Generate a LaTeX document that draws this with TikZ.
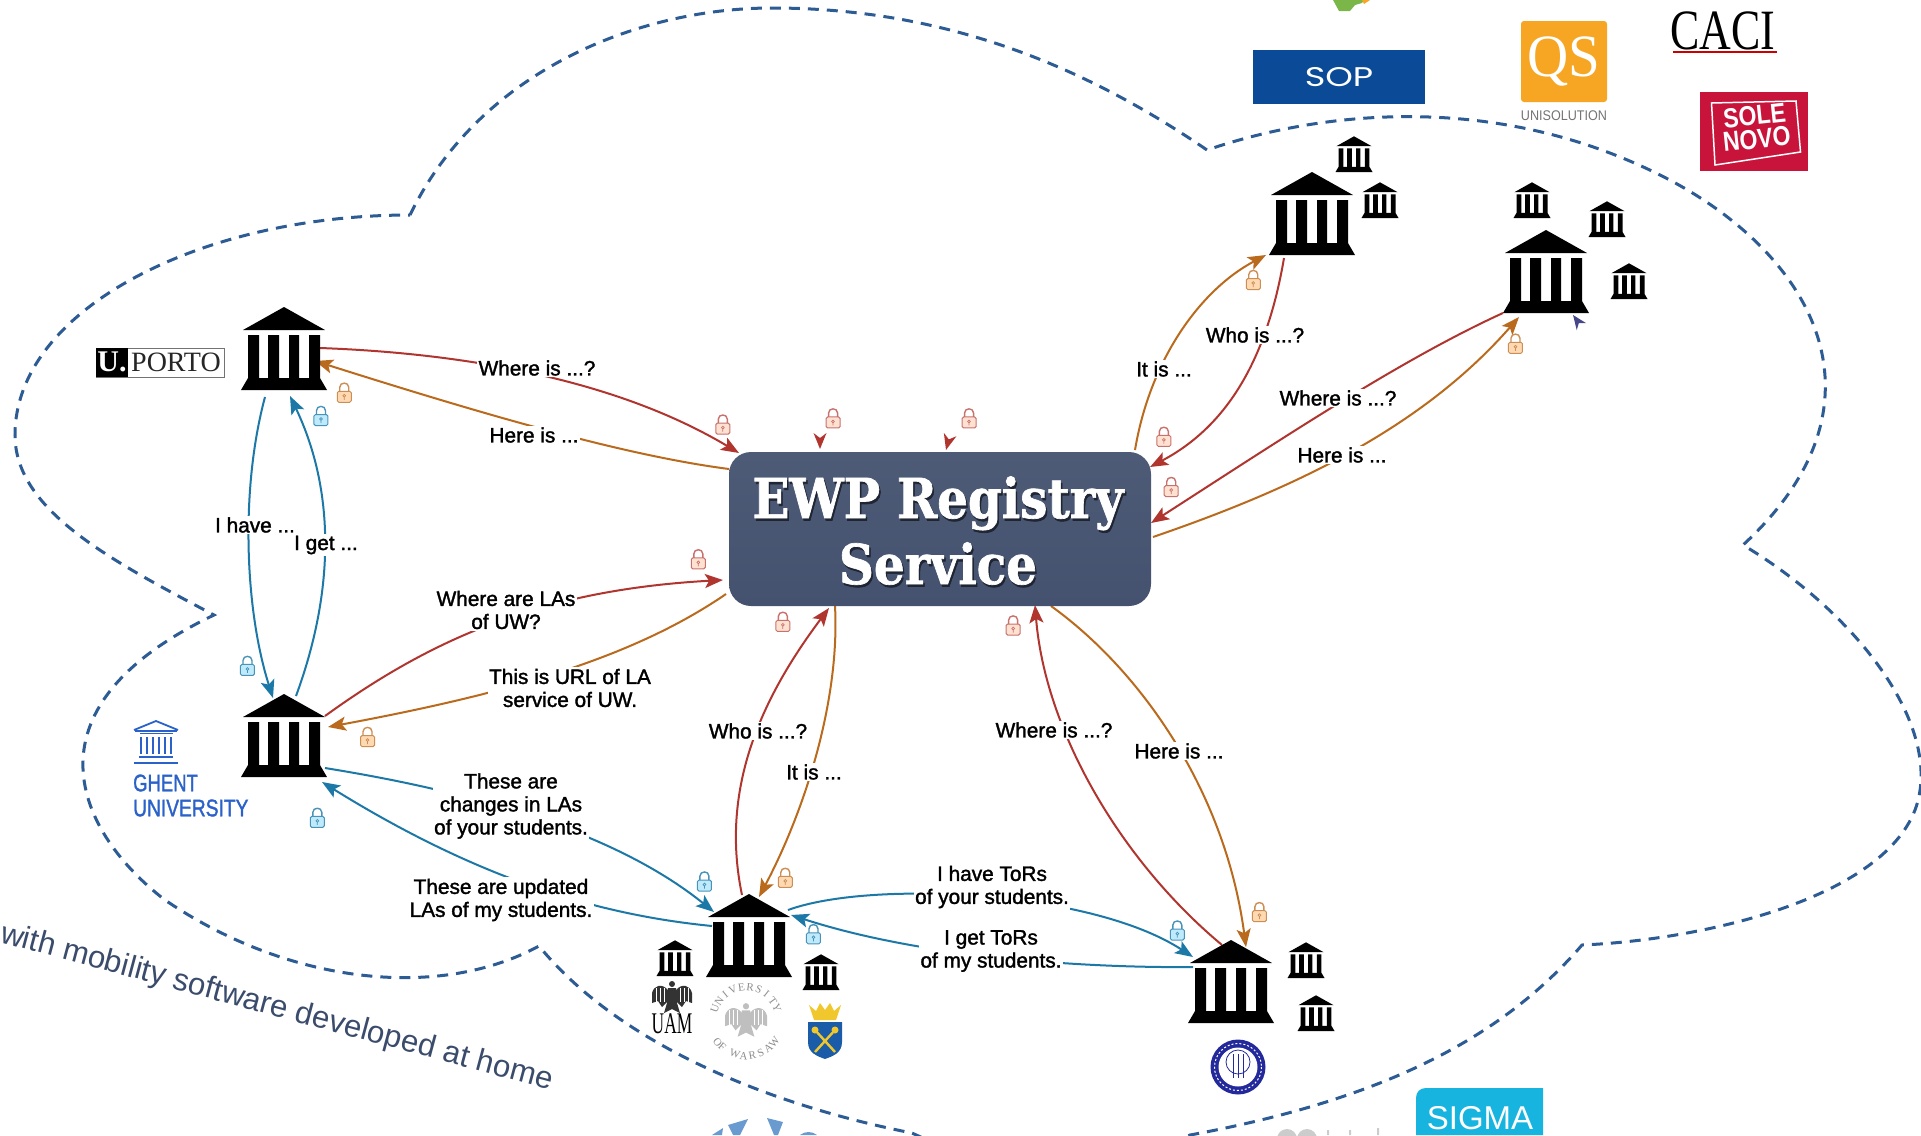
\documentclass[tikz,border=0pt]{standalone}
\usepackage{fontspec}
\usetikzlibrary{arrows.meta}
\setmainfont{Liberation Sans}
\newfontfamily\lblfont{Liberation Sans}[FakeBold=1.6]
\newfontfamily\titlefont{DejaVu Serif Bold}[FakeStretch=0.88,FakeBold=1.2]
\newfontfamily\serfont{Liberation Serif}
\newfontfamily\popfont{Poppins}
\definecolor{cloudc}{HTML}{2D5B94}
\definecolor{redc}{HTML}{B0352F}
\definecolor{orgc}{HTML}{B96A1D}
\definecolor{bluc}{HTML}{1C78A6}
\definecolor{boxtop}{HTML}{4E5B77}
\definecolor{boxbot}{HTML}{44526F}
\definecolor{txtc}{HTML}{3A4B6B}
\definecolor{gentc}{HTML}{2A62C9}
\definecolor{sopc}{HTML}{0B4A96}
\definecolor{qsc}{HTML}{F6A623}
\definecolor{solec}{HTML}{C8143A}
\definecolor{sigc}{HTML}{18B4E0}
\definecolor{crestb}{HTML}{1A5CA8}
\definecolor{crestg}{HTML}{F0C82E}
\definecolor{seal}{HTML}{23299A}
\definecolor{leaf}{HTML}{7AB648}
\definecolor{bltl}{HTML}{6A9BD0}
\tikzset{
  conn/.style={line width=2pt,-{Stealth[length=18pt,width=14pt,inset=4pt]}},
  rconn/.style={conn,draw=redc},
  oconn/.style={conn,draw=orgc},
  bconn/.style={conn,draw=bluc},
  lbl/.style={fill=white,inner sep=1.5pt,align=center,text=black,font=\lblfont\fontsize{20.8}{23}\selectfont},
  bldg/.pic={
    \fill[black] (0,-83) -- (41,-60) -- (-41,-60) -- cycle;
    \fill[black] (-36,-55) rectangle (-25,-12) (-16,-55) rectangle (-5,-12)
                 (5,-55) rectangle (15,-12) (25,-55) rectangle (36,-12);
    \fill[black] (-36,-12) -- (36,-12) -- (43,0) -- (-43,0) -- cycle;
  },
  lock/.pic={
    \path[pic actions,line width=1pt,rounded corners=1.5pt] (-7,-2) rectangle (7,9);
    \path[pic actions,fill=none,line width=1.4pt] (-4.5,-2) -- (-4.5,-6) .. controls (-4.5,-11.5) and (4.5,-11.5) .. (4.5,-6) -- (4.5,-2);
    \path[pic actions,line width=.7pt] (0,2.5) circle (1.4) (0,4) -- (0,6.5);
  },
  loosehead/.pic={
    \path[pic actions] (0,0) -- (-16,6.5) -- (-11,0) -- (-16,-6.5) -- cycle;
  },
  eagle/.pic={
    \path[pic actions] (0,-15) circle (3);
    \path[pic actions] (-4,-11) -- (4,-11) -- (5,4) -- (8,14) -- (0,10) -- (-8,14) -- (-5,4) -- cycle;
    \foreach \s in {-1,1}{
      \path[pic actions] ({\s*4},-9) .. controls ({\s*10},-16) and ({\s*18},-14) .. ({\s*20},-6) -- ({\s*20},4) -- ({\s*14},2) -- ({\s*10},8) -- ({\s*4},2) -- cycle;
      \foreach \k in {8,12,16}
        \draw[white,line width=.9pt] ({\s*\k},-11) -- ({\s*\k},3);
    }
  }
}
\begin{document}
\begin{tikzpicture}[x=1pt,y=-1pt]
\useasboundingbox (0,0) rectangle (1921,1135);
\clip (0,0) rectangle (1921,1135);

% cloud
\draw[cloudc,line width=3pt,dash pattern=on 11pt off 8pt]
  (410,215) .. controls (480,70) and (640,8) .. (772,8)
  .. controls (950,8) and (1090,70) .. (1207,150)
  .. controls (1330,108) and (1500,95) .. (1660,175)
  .. controls (1810,250) and (1900,400) .. (1743,545)
  .. controls (1860,615) and (1945,730) .. (1915,810)
  .. controls (1880,900) and (1700,940) .. (1582,945)
  .. controls (1500,1040) and (1380,1100) .. (1190,1135)
  .. controls (1100,1175) and (1000,1175) .. (912,1133)
  .. controls (770,1105) and (620,1045) .. (539,946)
  .. controls (440,1000) and (290,985) .. (165,900)
  .. controls (80,835) and (15,710) .. (214,615)
  .. controls (110,560) and (15,510) .. (15,435)
  .. controls (15,310) and (200,215) .. (410,215);

% connector ends
\coordinate (a1) at (320,348);   \coordinate (b1) at (739,453);
\coordinate (a2) at (729,469);   \coordinate (b2) at (315,361);
\coordinate (a3) at (265,397);   \coordinate (b3) at (273,698);
\coordinate (a4) at (296,696);   \coordinate (b4) at (290,396);
\coordinate (a5) at (325,716);   \coordinate (b5) at (723,580);
\coordinate (a6) at (726,594);   \coordinate (b6) at (328,727);
\coordinate (a7) at (325,768);   \coordinate (b7) at (714,912);
\coordinate (a8) at (712,926);   \coordinate (b8) at (322,782);
\coordinate (a9) at (742,895);   \coordinate (b9) at (829,608);
\coordinate (a10) at (835,606);  \coordinate (b10) at (759,897);
\coordinate (a11) at (1222,945); \coordinate (b11) at (1035,605);
\coordinate (a12) at (1051,606); \coordinate (b12) at (1246,947);
\coordinate (a13) at (788,910);  \coordinate (b13) at (1193,957);
\coordinate (a14) at (1193,967); \coordinate (b14) at (791,915);
\coordinate (a15) at (1135,450); \coordinate (b15) at (1266,255);
\coordinate (a16) at (1284,258); \coordinate (b16) at (1150,467);
\coordinate (a17) at (1503,313); \coordinate (b17) at (1151,523);
\coordinate (a18) at (1153,537); \coordinate (b18) at (1519,317);

\draw[rconn] (a1) .. controls (430,352) and (600,370) .. (b1);
\draw[oconn] (a2) .. controls (620,455) and (470,410) .. (b2);
\draw[bconn] (a3) .. controls (240,490) and (245,610) .. (b3);
\draw[bconn] (a4) .. controls (335,590) and (335,490) .. (b4);
\draw[rconn] (a5) .. controls (430,640) and (540,590) .. (b5);
\draw[oconn] (a6) .. controls (630,660) and (500,695) .. (b6);
\draw[bconn] (a7) .. controls (430,785) and (600,820) .. (b7);
\draw[bconn] (a8) .. controls (600,915) and (480,880) .. (b8);
\draw[rconn] (a9) .. controls (720,790) and (760,700) .. (b9);
\draw[oconn] (a10) .. controls (840,700) and (805,810) .. (b10);
\draw[rconn] (a11) .. controls (1120,860) and (1045,730) .. (b11);
\draw[oconn] (a12) .. controls (1140,670) and (1225,790) .. (b12);
\draw[bconn] (a13) .. controls (870,880) and (1090,890) .. (b13);
\draw[bconn] (a14) .. controls (1100,968) and (930,960) .. (b14);
\draw[oconn] (a15) .. controls (1150,360) and (1200,290) .. (b15);
\draw[rconn] (a16) .. controls (1265,370) and (1220,430) .. (b16);
\draw[rconn] (a17) .. controls (1400,360) and (1280,440) .. (b17);
\draw[oconn] (a18) .. controls (1290,490) and (1420,430) .. (b18);

% labels
\node[lbl] (l1) at (537,368) {Where is ...?};
\node[lbl] (l2) at (534,435) {Here is ...};
\node[lbl] (l3) at (255,525) {I have ...};
\node[lbl] (l4) at (326,545) {I get ...};
\node[lbl] (l5) at (506,610) {Where are LAs\\of UW?};
\node[lbl] (l6) at (570,688) {This is URL of LA\\service of UW.};
\node[lbl] (l7) at (511,806) {These are\\changes in LAs\\of your students.};
\node[lbl] (l8) at (501,900) {These are updated\\LAs of my students.};
\node[lbl] (l9) at (758,731) {Who is ...?};
\node[lbl] (l10) at (814,772) {It is ...};
\node[lbl] (l11) at (1054,730) {Where is ...?};
\node[lbl] (l12) at (1179,751) {Here is ...};
\node[lbl] (l13) at (992,887) {I have ToRs\\of your students.};
\node[lbl] (l14) at (991,951) {I get ToRs\\of my students.};
\node[lbl] (l15) at (1164,369) {It is ...};
\node[lbl] (l16) at (1255,335) {Who is ...?};
\node[lbl] (l17) at (1338,398) {Where is ...?};
\node[lbl] (l18) at (1342,455) {Here is ...};

% registry
\node[rectangle,rounded corners=22pt,minimum width=422pt,minimum height=154pt,inner sep=0pt,top color=boxtop,bottom color=boxbot] (reg) at (940,529) {};
\node[align=center,inner sep=0pt,text=black!55!boxbot,font=\titlefont\fontsize{55}{66}\selectfont] (regshadow) at (939.5,533) {EWP Registry\\Service};
\node[align=center,inner sep=0pt,text=white,font=\titlefont\fontsize{55}{66}\selectfont] (regtext) at (938,530.5) {EWP Registry\\Service};

% loose arrowheads
\pic[fill=redc,rotate=-90] at (820,449) {loosehead};
\pic[fill=redc,rotate=-105] at (946,450) {loosehead};
\pic[fill=black!40!blue!45!gray,rotate=126,scale=.9] at (1573,315) {loosehead};

% buildings
\pic (porto) at (284,390) {bldg};
\pic (ghent) at (284,777) {bldg};
\pic (uw) at (749,977) {bldg};
\pic (uc3m) at (1231,1023) {bldg};
\pic (top1) at (1312,255) {bldg};
\pic (top2) at (1546,313) {bldg};
\pic[scale=.43] (s1) at (1354,172) {bldg};
\pic[scale=.43] (s2) at (1380,218) {bldg};
\pic[scale=.43] (s3) at (1532,218) {bldg};
\pic[scale=.43] (s4) at (1607,237) {bldg};
\pic[scale=.43] (s5) at (1629,299) {bldg};
\pic[scale=.43] (s6) at (675,976) {bldg};
\pic[scale=.43] (s7) at (821,990) {bldg};
\pic[scale=.43] (s8) at (1306,978) {bldg};
\pic[scale=.43] (s9) at (1316,1031) {bldg};

% locks
\foreach \x/\y in {590/347,680/342,791/342,570/457,639/508,827/511,950/357,956/398}
  \pic[fill=red!30!orange!18!white,draw=redc!70!white] at ({\x*1.2251},{\y*1.2251}) {lock};
\foreach \x/\y in {281/321,1023/229,1237/281,300/602,641/717,1028/745}
  \pic[fill=orange!30!white,draw=orgc!75!white] at ({\x*1.2251},{\y*1.2251}) {lock};
\foreach \x/\y in {262/340,202/544,259/668,575/720,664/763,961/760}
  \pic[fill=cyan!25!white,draw=bluc!80!white] at ({\x*1.2251},{\y*1.2251}) {lock};

% caption
\node[anchor=base west,rotate=-15,inner sep=0pt,text=txtc,font=\fontsize{31.2}{34}\selectfont] (caption) at (-1,942) {with mobility software developed at home};

% logos top
\fill[leaf] (1333,0) -- (1339,11) -- (1350,11) -- (1355,5) -- (1362,3) -- (1364,0) -- cycle;
\fill[qsc] (1362,0) -- (1364,4) -- (1370,0) -- cycle;
\node[rectangle,fill=sopc,minimum width=172pt,minimum height=54pt,inner sep=0pt,text=white,font=\popfont\fontsize{27}{30}\selectfont] (sop) at (1339,77) {\scalebox{1.3}[1]{SOP}};
\node[rectangle,rounded corners=3pt,fill=qsc,minimum width=86pt,minimum height=81pt,inner sep=0pt,text=white,font=\serfont\fontsize{60}{60}\selectfont] (qs) at (1564,61.5) {\scalebox{.95}[1]{QS}};
\node[inner sep=0pt,text=black!55,font=\fontsize{14}{16}\selectfont] (unisol) at (1564,116) {\scalebox{.9}[1]{UNISOLUTION}};
\node[inner sep=0pt,text=black,font=\serfont\fontsize{57}{60}\selectfont] (caci) at (1723,31) {\scalebox{.77}[1]{CACI}};
\draw[red!80!black,line width=2pt] (1673,52) -- (1777,52);
\node[rectangle,fill=solec,minimum width=107.5pt,minimum height=79pt,inner sep=0pt] (sole) at (1754,131.5) {};
\draw[white,line width=1.5pt] (1711.5,103) -- (1796,101) -- (1800.5,152) -- (1715,165) -- cycle;
\node[rotate=6,align=center,inner sep=0pt,text=white,font=\bfseries\fontsize{25}{23}\selectfont] (soletxt) at (1756,131) {\scalebox{.92}[1.1]{\begin{tabular}{@{}c@{}}SOLE\\[-3pt]NOVO\end{tabular}}};

% U.PORTO
\node[rectangle,draw=black!55,line width=.8pt,minimum width=128pt,minimum height=29pt,inner sep=0pt] (uportobox) at (160,362.5) {};
\fill[black] (96,348) rectangle (128,377);
\node[inner sep=0pt,text=white,font=\serfont\bfseries\fontsize{30}{30}\selectfont] (uportoU) at (112,362) {U.};
\node[inner sep=0pt,text=black!85,font=\serfont\fontsize{28}{28}\selectfont] (uportoP) at (176,362.5) {PORTO};

% Ghent
\begin{scope}[draw=gentc,line width=1.8pt,line cap=butt]
  \draw (134,730) -- (156,721) -- (178,730);
  \draw (135,731) -- (177,731);
  \draw (140,733.5) -- (173,733.5);
  \foreach \cx in {141,147,153,159,165,171} \draw (\cx,737) -- (\cx,754);
  \draw (139,757) -- (173,757);
  \draw (134,763) -- (178,763);
\end{scope}
\node[anchor=west,inner sep=0pt,text=gentc,font=\lblfont\fontsize{24}{26}\selectfont] (ghent1) at (133,783) {\scalebox{.77}[1]{GHENT}};
\node[anchor=west,inner sep=0pt,text=gentc,font=\lblfont\fontsize{24}{26}\selectfont] (ghent2) at (133,808) {\scalebox{.8}[1]{UNIVERSITY}};

% UAM
\pic[fill=black!80] at (672,999) {eagle};
\node[inner sep=0pt,text=black,font=\serfont\fontsize{30}{30}\selectfont] (uam) at (672,1024) {\scalebox{.58}[1]{UAM}};

% UW seal
\pic[fill=black!25,scale=1.05] at (746,1022) {eagle};
\foreach \l/\a [count=\i] in {U/160,N/144.5,I/129,V/113.5,E/98,R/82.5,S/67,I/51.5,T/36,Y/20.5}
  \node[inner sep=0pt,rotate=\a-90,text=black!45,font=\serfont\fontsize{11}{11}\selectfont] (uwa\i) at ({746+33*cos(\a)},{1020-33*sin(\a)}) {\l};
\foreach \l/\a [count=\i] in {O/218,F/229,W/252,A/266,R/280,S/294,A/308,W/322}
  \node[inner sep=0pt,rotate=\a+90,text=black!45,font=\serfont\fontsize{11}{11}\selectfont] (uwb\i) at ({746+36*cos(\a)},{1020-36*sin(\a)}) {\l};

% crest
\fill[crestg] (809,1005) -- (816,1011) -- (820,1003) -- (825,1010) -- (830,1003) -- (834,1011) -- (841,1005) -- (836,1020) -- (814,1020) -- cycle;
\fill[crestb] (808,1022) -- (842,1022) -- (842,1042) .. controls (842,1053) and (833,1056) .. (825,1059) .. controls (817,1056) and (808,1053) .. (808,1042) -- cycle;
\draw[crestg,line width=2.4pt] (815,1030) -- (835,1052) (835,1030) -- (815,1052);
\fill[crestg] (815,1030) circle (3.5) (835,1030) circle (3.5);

% UC3M seal
\fill[seal] (1238,1067) circle (27.5);
\fill[white] (1238,1067) circle (19.5);
\draw[seal,line width=.8pt] (1238,1062) circle (12);
\foreach \cx in {1233,1238,1243} \draw[seal,line width=1pt] (\cx,1054) -- (\cx,1078);
\draw[white,line width=1pt,dash pattern=on 2pt off 2pt] (1238,1067) circle (23.5);

% bottom logos
\fill[bltl] (712,1135) -- (723,1128) -- (722,1135) -- cycle;
\fill[bltl] (728,1125) -- (748,1119) -- (740,1135) -- (733,1135) -- cycle;
\fill[bltl] (767,1118) -- (783,1122) -- (778,1135) -- (774,1135) -- cycle;
\fill[bltl] (800,1135) .. controls (805,1131) and (812,1131) .. (817,1135) -- cycle;
\fill[black!20] (1287,1139) circle (10) (1307,1139) circle (10);
\fill[black!20] (1327,1130) rectangle (1329,1135) (1349,1130) rectangle (1351,1135) (1377,1128) rectangle (1379,1135);
\path[fill=sigc] (1416,1135) -- (1416,1098) .. controls (1416,1092) and (1420,1088) .. (1426,1088) -- (1543,1088) -- (1543,1135) -- cycle;
\node[inner sep=0pt,anchor=base,text=white,font=\fontsize{33}{34}\selectfont] (sigma) at (1480,1129) {SIGMA};
\end{tikzpicture}
\end{document}
